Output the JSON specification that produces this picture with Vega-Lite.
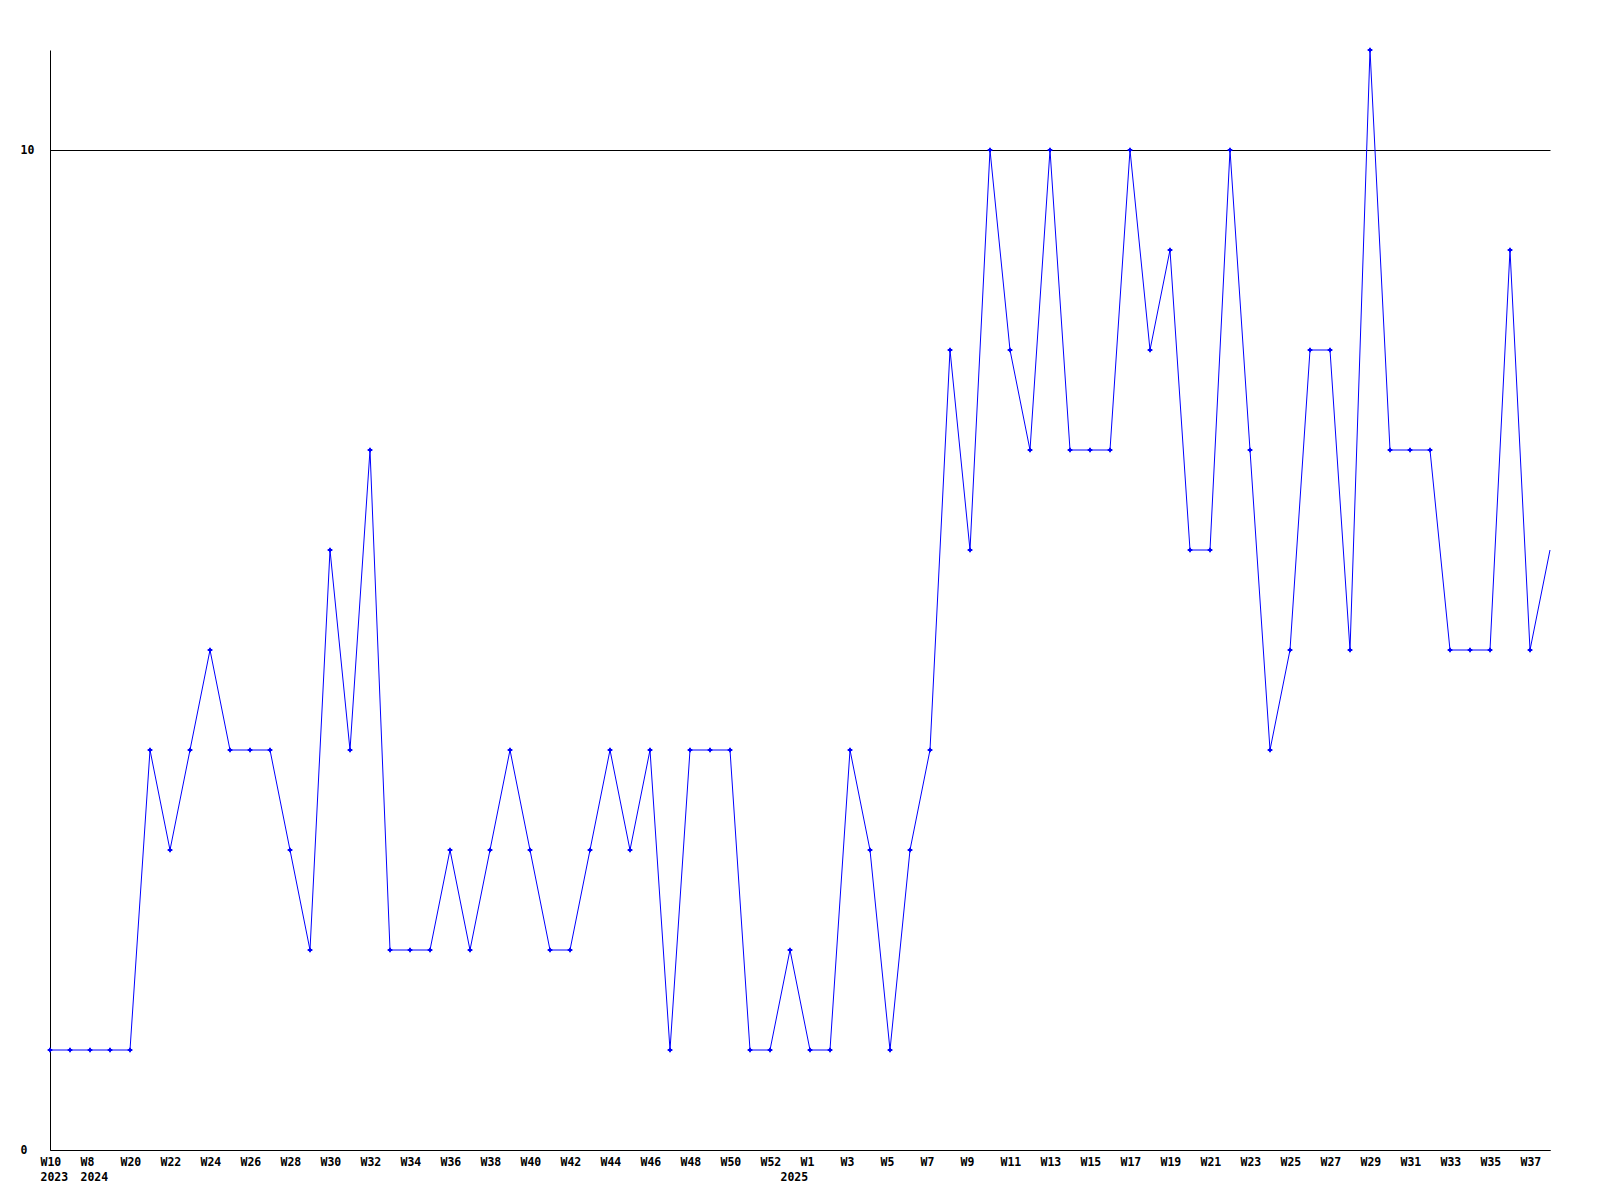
{
  "$schema": "https://vega.github.io/schema/vega-lite/v6.json",
  "width": 1500,
  "height": 1100,
  "autosize": {"type": "none"},
  "padding": {"left": 50, "top": 50, "right": 50, "bottom": 50},
  "background": "white",
  "config": {"view": {"stroke": null}},
  "data": {"values": [
    {"period": "2023-W10", "count": 1},
    {"period": "2023-W11", "count": 1},
    {"period": "2024-W08", "count": 1},
    {"period": "2024-W19", "count": 1},
    {"period": "2024-W20", "count": 1},
    {"period": "2024-W21", "count": 4},
    {"period": "2024-W22", "count": 3},
    {"period": "2024-W23", "count": 4},
    {"period": "2024-W24", "count": 5},
    {"period": "2024-W25", "count": 4},
    {"period": "2024-W26", "count": 4},
    {"period": "2024-W27", "count": 4},
    {"period": "2024-W28", "count": 3},
    {"period": "2024-W29", "count": 2},
    {"period": "2024-W30", "count": 6},
    {"period": "2024-W31", "count": 4},
    {"period": "2024-W32", "count": 7},
    {"period": "2024-W33", "count": 2},
    {"period": "2024-W34", "count": 2},
    {"period": "2024-W35", "count": 2},
    {"period": "2024-W36", "count": 3},
    {"period": "2024-W37", "count": 2},
    {"period": "2024-W38", "count": 3},
    {"period": "2024-W39", "count": 4},
    {"period": "2024-W40", "count": 3},
    {"period": "2024-W41", "count": 2},
    {"period": "2024-W42", "count": 2},
    {"period": "2024-W43", "count": 3},
    {"period": "2024-W44", "count": 4},
    {"period": "2024-W45", "count": 3},
    {"period": "2024-W46", "count": 4},
    {"period": "2024-W47", "count": 1},
    {"period": "2024-W48", "count": 4},
    {"period": "2024-W49", "count": 4},
    {"period": "2024-W50", "count": 4},
    {"period": "2024-W51", "count": 1},
    {"period": "2024-W52", "count": 1},
    {"period": "2025-W00", "count": 2},
    {"period": "2025-W01", "count": 1},
    {"period": "2025-W02", "count": 1},
    {"period": "2025-W03", "count": 4},
    {"period": "2025-W04", "count": 3},
    {"period": "2025-W05", "count": 1},
    {"period": "2025-W06", "count": 3},
    {"period": "2025-W07", "count": 4},
    {"period": "2025-W08", "count": 8},
    {"period": "2025-W09", "count": 6},
    {"period": "2025-W10", "count": 10},
    {"period": "2025-W11", "count": 8},
    {"period": "2025-W12", "count": 7},
    {"period": "2025-W13", "count": 10},
    {"period": "2025-W14", "count": 7},
    {"period": "2025-W15", "count": 7},
    {"period": "2025-W16", "count": 7},
    {"period": "2025-W17", "count": 10},
    {"period": "2025-W18", "count": 8},
    {"period": "2025-W19", "count": 9},
    {"period": "2025-W20", "count": 6},
    {"period": "2025-W21", "count": 6},
    {"period": "2025-W22", "count": 10},
    {"period": "2025-W23", "count": 7},
    {"period": "2025-W24", "count": 4},
    {"period": "2025-W25", "count": 5},
    {"period": "2025-W26", "count": 8},
    {"period": "2025-W27", "count": 8},
    {"period": "2025-W28", "count": 5},
    {"period": "2025-W29", "count": 11},
    {"period": "2025-W30", "count": 7},
    {"period": "2025-W31", "count": 7},
    {"period": "2025-W32", "count": 7},
    {"period": "2025-W33", "count": 5},
    {"period": "2025-W34", "count": 5},
    {"period": "2025-W35", "count": 5},
    {"period": "2025-W36", "count": 9},
    {"period": "2025-W37", "count": 5},
    {"period": "2025-W38", "count": 6}
  ]},
  "encoding": {
    "x": {
      "field": "period",
      "type": "ordinal",
      "sort": null,
      "scale": {"type": "point", "padding": 0},
      "axis": {
        "title": null,
        "ticks": false,
        "tickSize": 0,
        "domainColor": "black",
        "domainWidth": 1,
        "labelAngle": 0,
        "labelAlign": "left",
        "labelOffset": -10,
        "labelBaseline": "top",
        "labelPadding": 6,
        "labelOverlap": false,
        "labelBound": false,
        "labelFlush": false,
        "labelFont": "DejaVu Sans Mono",
        "labelFontWeight": "bold",
        "labelFontSize": 11.5,
        "labelColor": "black",
        "labelLineHeight": 15,
        "labelExpr": "(indexof(['2023-W10','2024-W08','2025-W00'], datum.value) >= 0) ? [(((substring(datum.value,0,4)=='2025') == (toNumber(substring(datum.value,6))%2==1)) ? 'W'+toNumber(substring(datum.value,6)) : ''), substring(datum.value,0,4)] : (((substring(datum.value,0,4)=='2025') == (toNumber(substring(datum.value,6))%2==1)) ? 'W'+toNumber(substring(datum.value,6)) : '')"
      }
    },
    "y": {
      "field": "count",
      "type": "quantitative",
      "scale": {"domain": [0, 11], "nice": false, "zero": true},
      "axis": {
        "title": null,
        "values": [0, 10],
        "grid": true,
        "gridColor": "black",
        "gridOpacity": 1,
        "gridWidth": 1,
        "ticks": false,
        "tickSize": 0,
        "domainColor": "black",
        "domainWidth": 1,
        "labelAlign": "left",
        "labelBaseline": "middle",
        "labelPadding": 30,
        "labelFont": "DejaVu Sans Mono",
        "labelFontWeight": "bold",
        "labelFontSize": 11.5,
        "labelColor": "black"
      }
    }
  },
  "layer": [
    {"mark": {"type": "line", "color": "#0000ff", "strokeWidth": 1}},
    {
      "transform": [{"filter": "datum.period != '2025-W38'"}],
      "mark": {"type": "point", "shape": "cross", "filled": true, "size": 22, "color": "#0000ff", "opacity": 1}
    }
  ]
}
